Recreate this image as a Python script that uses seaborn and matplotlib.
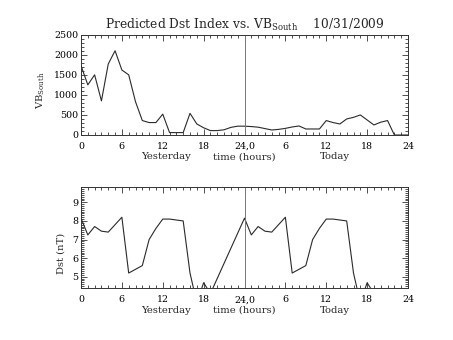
import numpy as np
import pandas as pd
import matplotlib
matplotlib.use("Agg")
import matplotlib.pyplot as plt
import seaborn as sns
from matplotlib.ticker import MultipleLocator, FixedLocator

# ---- data ----
hours = list(range(0, 49))
vb_south = [1730, 1250, 1500, 850, 1770, 2100, 1620, 1500, 830, 360,
            310, 310, 520, 60, 60, 60, 540, 275, 180, 110,
            110, 130, 190, 220, 220, 210, 195, 160, 125, 140,
            165, 200, 225, 150, 150, 150, 360, 310, 275, 400,
            440, 500, 375, 250, 320, 360, 0, 0, 0]
nan = np.nan
dst = [8.15, 7.25, 7.7, 7.45, 7.4, 7.8, 8.2, 5.2, 5.4, 5.6,
       7.0, 7.6, 8.1, 8.1, 8.05, 8.0, 5.2, 3.6, 4.68, 4.1,
       nan, nan, nan, nan, 8.15, 7.25, 7.7, 7.45, 7.4, 7.8,
       8.2, 5.2, 5.4, 5.6, 7.0, 7.6, 8.1, 8.1, 8.05, 8.0,
       5.2, 3.6, 4.68, 4.1, nan, nan, nan, nan, nan]
xticks = [0, 6, 12, 18, 24, 30, 36, 42, 48]
xticklabels = ["0", "6", "12", "18", "24,0", "6", "12", "18", "24"]
title = "Predicted Dst Index vs. VB$_{\\mathrm{South}}$    10/31/2009"
ylabel_top = "VB$_{\\mathrm{South}}$"
ylabel_bot = "Dst (nT)"
sub_labels = [("Yesterday", 12.4), ("time (hours)", 24.0), ("Today", 37.2)]

df1 = pd.DataFrame({"hour": hours, "vb": vb_south})
df2 = pd.DataFrame({"hour": hours, "dst": dst})

sns.set_style("white")
plt.rcParams["font.family"] = ["DejaVu Serif"]
plt.rcParams["mathtext.fontset"] = "dejavuserif"

W, H = 453, 340
fig = plt.figure(figsize=(W / 100, H / 100), dpi=100)
ax1 = fig.add_axes([81 / W, 1 - 135 / H, 327 / W, 100.3 / H])
ax2 = fig.add_axes([81 / W, 1 - 288.3 / H, 327 / W, 101.6 / H])

line_col = "#2a2a2a"
sns.lineplot(data=df1, x="hour", y="vb", ax=ax1, color=line_col,
             linewidth=0.8, estimator=None, sort=False)
sns.lineplot(data=df2, x="hour", y="dst", ax=ax2, color=line_col,
             linewidth=0.8, estimator=None, sort=False)

ax1.set_ylim(0, 2500)
ax2.set_ylim(4.38, 9.84)
ax1.yaxis.set_major_locator(MultipleLocator(500))
ax1.yaxis.set_minor_locator(MultipleLocator(100))
ax2.yaxis.set_major_locator(FixedLocator([5, 6, 7, 8, 9]))
ax2.yaxis.set_minor_locator(MultipleLocator(0.1))

for ax in (ax1, ax2):
    ax.set_xlim(0, 48)
    ax.set_xticks(xticks)
    ax.set_xticklabels(xticklabels)
    ax.xaxis.set_minor_locator(MultipleLocator(1))
    ax.axvline(24, color="#777777", linewidth=0.7)
    ax.set_xlabel("")
    ax.set_ylabel("")
    for s in ax.spines.values():
        s.set_visible(True)
        s.set_color("#333333")
        s.set_linewidth(0.7)
    ax.tick_params(which="both", direction="in", top=True, right=True,
                   bottom=True, left=True, color="#333333", width=0.6,
                   labelsize=6.8, labelcolor="black")
    ax.tick_params(which="major", length=4)
    ax.tick_params(which="minor", length=2)
    ax.tick_params(axis="x", pad=5)
    ax.tick_params(axis="y", pad=2)
    for lab, xv in sub_labels:
        ax.text(xv, -0.215, lab, transform=ax.get_xaxis_transform(),
                ha="center", va="center", fontsize=7.2)

ax1.text(-0.122, 0.45, ylabel_top, transform=ax1.transAxes, rotation=90,
         ha="center", va="center", fontsize=7.2)
ax2.text(-0.061, 0.34, ylabel_bot, transform=ax2.transAxes, rotation=90,
         ha="center", va="center", fontsize=7.2)

fig.text(244.5 / W, 1 - 25 / H, title, ha="center", va="center", fontsize=8.8)

fig.savefig("out.png", dpi=100, facecolor="white")
